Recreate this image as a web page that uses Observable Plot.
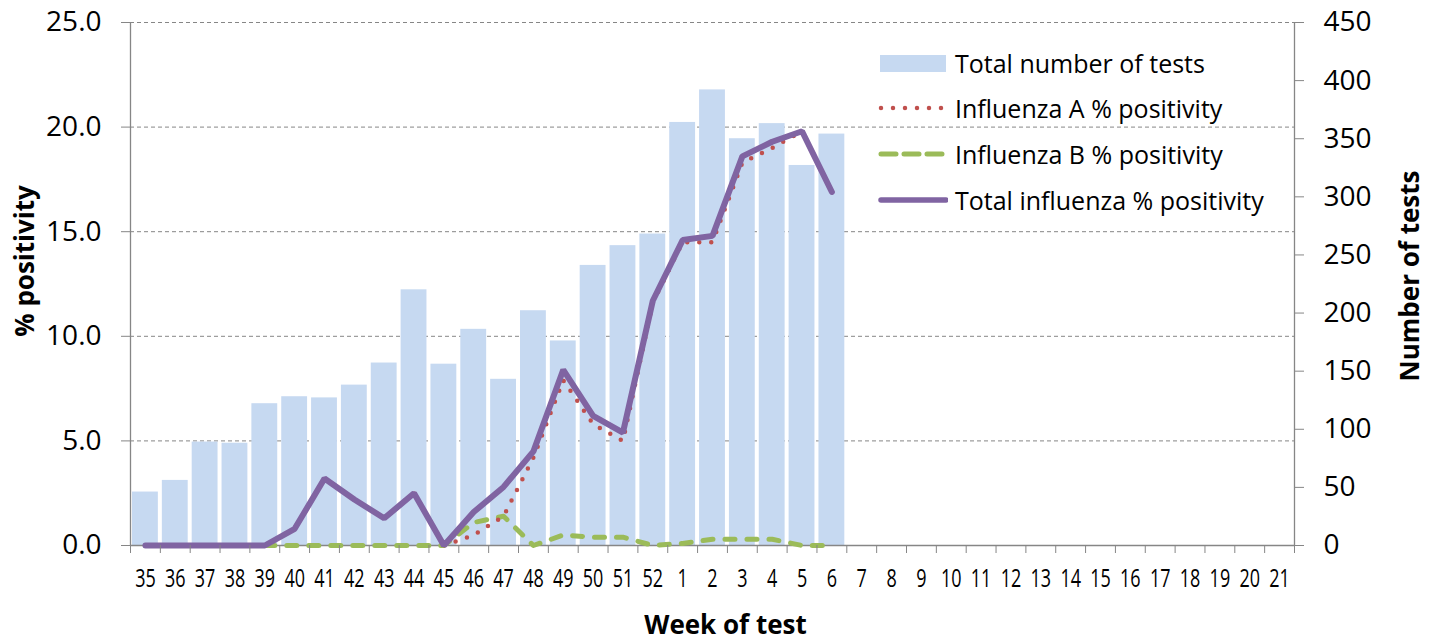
<!DOCTYPE html>
<html><head><meta charset="utf-8">
<script src="https://cdn.jsdelivr.net/npm/d3@7"></script>
<script src="https://cdn.jsdelivr.net/npm/@observablehq/plot@0.6"></script>
<style>
body{margin:0;background:#fff;}
#wrap{position:relative;width:1440px;height:643px;font-family:"Open Sans",sans-serif;}
.item{position:absolute;white-space:nowrap;font-size:25px;line-height:30px;color:#000;display:flex;align-items:center;}
.item svg{margin-right:7px;}
</style></head>
<body><div id="wrap"></div>
<script>
const weeks = ["35","36","37","38","39","40","41","42","43","44","45","46","47","48","49","50","51","52",
  "1","2","3","4","5","6","7","8","9","10","11","12","13","14","15","16","17","18","19","20","21"];
const tests = [46,56,89,88,122,128,127,138,157,220,156,186,143,202,176,241,258,268,
  364,392,350,363,327,354];
const fluTotal = [0,0,0,0,0,0.8,3.2,2.2,1.3,2.5,0.0,1.6,2.8,4.5,8.4,6.2,5.4,11.7,
  14.6,14.8,18.6,19.3,19.8,16.9];
const fluA = [null,null,null,null,0,0.8,3.2,2.2,1.3,2.5,0.0,0.5,1.4,4.2,7.9,5.8,5.0,11.6,
  14.5,14.5,18.3,19.0,19.8,16.9];
const fluB = [null,null,null,null,0,0,0,0,0,0,0,1.1,1.4,0.0,0.5,0.4,0.4,0.0,
  0.1,0.3,0.3,0.3,0.0,0.0];
const leftTicks = [0,5,10,15,20,25];
const rightTicks = [0,50,100,150,200,250,300,350,400,450];
const leftMax = 25, rightMax = 450;

const table = weeks.map((w,i) => ({i, week:w, tests: tests[i] ?? null,
  total: fluTotal[i] ?? null, a: fluA[i] ?? null, b: fluB[i] ?? null}));
const toLeft = v => v * leftMax / rightMax;
const axisGray = "#868686";

const plot = Plot.plot({
  width: 1440, height: 643,
  marginLeft: 130, marginRight: 146, marginTop: 22, marginBottom: 98,
  style: {fontFamily: "'Open Sans', sans-serif", fontSize: "25px", color: "#000", background: "#fff"},
  x: {type: "linear", domain: [0, weeks.length], axis: null},
  y: {domain: [0, leftMax], axis: null},
  marks: [
    Plot.ruleY(leftTicks.slice(1), {stroke: axisGray, strokeDasharray: "4,3", strokeWidth: 1}),
    Plot.rect(table.filter(d => d.tests != null), {x1: "i", x2: d => d.i + 1, y1: 0, y2: d => toLeft(d.tests),
      insetLeft: 2, insetRight: 2, fill: "#C6D9F1"}),
    Plot.ruleX([0, weeks.length], {stroke: axisGray, strokeWidth: 1.3}),
    Plot.ruleY([0], {stroke: axisGray, strokeWidth: 1.3}),
    Plot.line(table.filter(d => d.b != null), {x: d => d.i + 0.5, y: "b", stroke: "#9BBB59", strokeWidth: 5,
      strokeDasharray: "10,12", strokeLinecap: "round"}),
    Plot.line(table.filter(d => d.a != null), {x: d => d.i + 0.5, y: "a", stroke: "#C0504D", strokeWidth: 4.5,
      strokeDasharray: "0,12", strokeLinecap: "round"}),
    Plot.line(table.filter(d => d.total != null), {x: d => d.i + 0.5, y: "total", stroke: "#8064A2", strokeWidth: 6,
      strokeLinejoin: "miter"}),
    Plot.axisY(leftTicks, {anchor: "left", tickFormat: d3.format(".1f"), tickSize: 9, tickPadding: 20,
      fontSize: 28, stroke: axisGray, label: null}),
    Plot.axisY(rightTicks.map(toLeft), {anchor: "right", tickFormat: d => String(Math.round(d * rightMax / leftMax)),
      tickSize: 9, tickPadding: 20, fontSize: 28, stroke: axisGray, label: null}),
    Plot.axisX(d3.range(weeks.length + 1), {anchor: "bottom", tickSize: 8, tickFormat: () => "", stroke: axisGray, label: null}),
    Plot.axisX(weeks.map((w,i) => i + 0.5), {anchor: "bottom", tickSize: 0, tickPadding: 24,
      tickFormat: d => weeks[Math.floor(d)], fontSize: 25, label: null}),
    Plot.text(["Week of test"], {frameAnchor: "bottom", text: d => d, dx: 13, dy: 88, fontSize: 26, fontWeight: "bold", textAnchor: "middle"}),
    Plot.text(["% positivity"], {frameAnchor: "left", text: d => d, rotate: -90, dx: -105, dy: -23, fontSize: 26, fontWeight: "bold", textAnchor: "middle"}),
    Plot.text(["Number of tests"], {frameAnchor: "right", text: d => d, rotate: -90, dx: 116, dy: -8, fontSize: 26, fontWeight: "bold", textAnchor: "middle"})
  ]
});

// condense x tick labels horizontally (keep Plot's own position, add a scale)
plot.querySelectorAll('g[aria-label="x-axis tick label"] text').forEach(t => {
  if (!t.textContent) return;
  const tr = t.getAttribute("transform");
  if (tr) t.setAttribute("transform", tr + " scale(0.72,1)");
});

const wrap = document.getElementById("wrap");
wrap.appendChild(plot);

// legend (inside plot area, top right)
const legendItems = [
  {label: "Total number of tests", kind: "bar", color: "#C6D9F1", top: 48},
  {label: "Influenza A % positivity", kind: "dot", color: "#C0504D", top: 93},
  {label: "Influenza B % positivity", kind: "dash", color: "#9BBB59", top: 139},
  {label: "Total influenza % positivity", kind: "solid", color: "#8064A2", top: 185}
];
legendItems.forEach(it => {
  const div = document.createElement("div");
  div.className = "item";
  div.style.left = "878px";
  div.style.top = it.top + "px";
  let sw;
  if (it.kind === "bar") sw = `<rect x="2" y="7" width="66" height="17" fill="${it.color}"/>`;
  else if (it.kind === "dot") sw = `<line x1="3" x2="66" y1="15" y2="15" stroke="${it.color}" stroke-width="4.5" stroke-linecap="round" stroke-dasharray="0,12"/>`;
  else if (it.kind === "dash") sw = `<line x1="3" x2="66" y1="15" y2="15" stroke="${it.color}" stroke-width="5" stroke-linecap="round" stroke-dasharray="15,8"/>`;
  else sw = `<line x1="3" x2="68" y1="15" y2="15" stroke="${it.color}" stroke-width="5.5" stroke-linecap="round"/>`;
  div.innerHTML = `<svg width="70" height="30">${sw}</svg><span>${it.label}</span>`;
  wrap.appendChild(div);
});
</script>
</body></html>
